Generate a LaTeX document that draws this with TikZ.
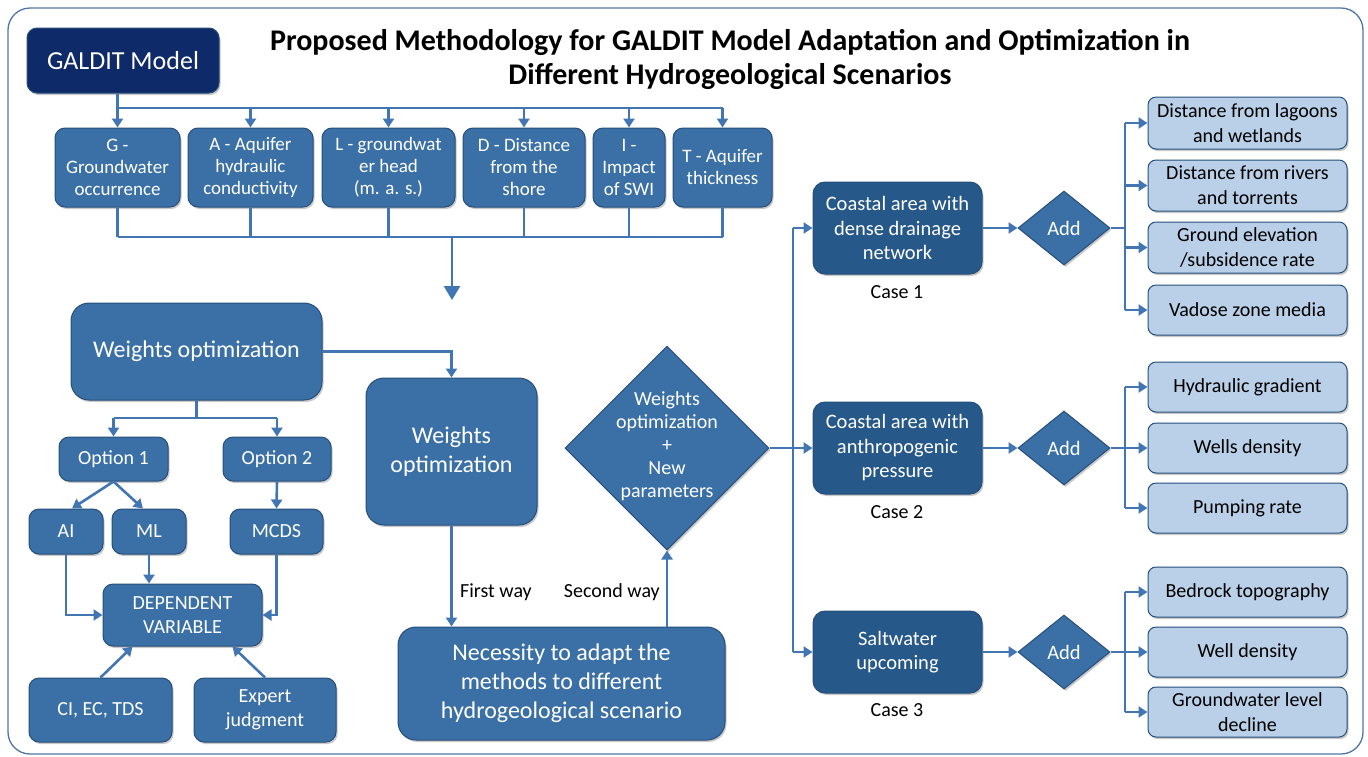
\documentclass[tikz,border=0pt]{standalone}
\usepackage{fontspec}
\setmainfont{Carlito}
\usetikzlibrary{arrows.meta,shapes.geometric,shadows}
\definecolor{navy}{RGB}{14,42,104}
\definecolor{midblue}{RGB}{59,112,166}
\definecolor{casebl}{RGB}{38,88,138}
\definecolor{lightbl}{RGB}{185,208,232}
\definecolor{boxline}{RGB}{38,78,122}
\definecolor{conn}{RGB}{65,118,178}
\definecolor{frame}{RGB}{80,118,165}
\newcommand\fs[2]{\fontsize{#1}{#2}\selectfont}
\newcommand\BX[7]{\node[#6, minimum width={(#4-#2)*1pt}, minimum height={(#5-#3)*1pt}] (#1) at ({(#2+#4)/2},{(#3+#5)/2}) {#7};}
\tikzset{
  shd/.style={drop shadow={shadow xshift=1.5pt, shadow yshift=-2pt, opacity=0.3, fill=black!70}},
  base/.style={shd, draw=boxline, line width=1pt, text=white, align=center, inner sep=0pt},
  galdit/.style={base, fill=navy, rounded corners=10pt, font=\fs{26}{30}},
  mid/.style={base, fill=midblue, rounded corners=10pt, font=\fs{19}{22}},
  small/.style={base, fill=midblue, rounded corners=10pt, font=\fs{20}{24.5}},
  big/.style={base, fill=midblue, rounded corners=18pt, font=\fs{24}{29}},
  casebox/.style={base, fill=casebl, rounded corners=12pt, font=\fs{20.5}{24.5}},
  light/.style={shd, draw=boxline, line width=1pt, fill=lightbl, text=black, align=center, inner sep=0pt, rounded corners=8pt, font=\fs{20}{25}},
  dmd/.style={base, fill=midblue, diamond, aspect=1},
  lbl/.style={text=black, font=\fs{20}{22}, inner sep=0pt},
  ln/.style={draw=conn, line width=2.6pt},
  arr/.style={ln, -{Triangle[length=9pt,width=11pt]}},
  bigarr/.style={ln, -{Triangle[length=14pt,width=16pt]}},
}
\begin{document}
\begin{tikzpicture}[x=1pt,y=-1pt]
\useasboundingbox (0,0) rectangle (1368,756);
\draw[draw=frame, line width=1.3pt, rounded corners=22pt] (8,8) rectangle (1363,754);

% title
\node[font=\bfseries\fs{30}{34}, align=center, text=black, inner sep=0pt] (title) at (730,59)
  {Proposed Methodology for GALDIT Model Adaptation and Optimization in\\Different Hydrogeological Scenarios};

% top
\BX{galdit}{27}{28}{219}{93}{galdit}{GALDIT Model}
\BX{G}{55}{128}{180}{207}{mid}{G -\\Groundwater\\occurrence}
\BX{A}{188}{128}{313}{207}{mid}{A - Aquifer\\hydraulic\\conductivity}
\BX{L}{322}{128}{455}{207}{mid}{L - groundwat\\er head\\(m. a. s.)}
\BX{D}{463}{128}{585}{207}{mid}{D - Distance\\from the\\shore}
\BX{I}{593}{128}{665}{207}{mid}{I -\\Impact\\of SWI}
\BX{T}{673}{128}{772}{207}{mid}{T - Aquifer\\thickness}

\coordinate (topbus) at (0,108);
\coordinate (botbus) at (0,237);
\coordinate (bigend) at (452,300);
\draw[arr] (G.north |- galdit.south) -- (G.north);
\draw[ln] (G.north |- topbus) -- (T.north |- topbus);
\foreach \n in {A,L,D,I,T} \draw[arr] (\n.north |- topbus) -- (\n.north);
\draw[ln] (G.south |- botbus) -- (T.south |- botbus);
\foreach \n in {G,A,L,D,I,T} \draw[ln] (\n.south) -- (\n.south |- botbus);
\draw[bigarr] (bigend |- botbus) -- (bigend);

% left block
\BX{w1}{71}{303}{322}{400}{big}{Weights optimization}
\BX{opt1}{59}{437}{168}{481}{small}{Option 1}
\BX{opt2}{223}{437}{331}{481}{small}{Option 2}
\BX{ai}{29}{509}{103}{554}{small}{AI}
\BX{ml}{112}{509}{186}{554}{small}{ML}
\BX{mcds}{230}{509}{323}{554}{small}{MCDS}
\BX{dep}{103}{584}{262}{646}{small}{DEPENDENT\\VARIABLE}
\BX{ci}{29}{678}{172}{742}{small}{CI, EC, TDS}
\BX{exp}{194}{678}{336}{742}{small}{Expert\\judgment}

\coordinate (optbus) at (0,418);
\draw[ln] (w1.south) -- (w1.south |- optbus);
\draw[ln] (opt1.north |- optbus) -- (opt2.north |- optbus);
\draw[arr] (opt1.north |- optbus) -- (opt1.north);
\draw[arr] (opt2.north |- optbus) -- (opt2.north);
\draw[arr] (opt1.south) -- ([xshift=6pt]ai.north);
\draw[arr] (opt1.south) -- ([xshift=-6pt]ml.north);
\draw[arr] (opt2.south) -- (mcds.north);
\draw[arr] (ml.south) -- (ml.south |- dep.north);
\draw[arr] (ai.south) |- (dep.west);
\draw[arr] (mcds.south) |- (dep.east);
\draw[arr] (ci.north) -- ([xshift=-50pt]dep.south);
\draw[arr] (exp.north) -- ([xshift=50pt]dep.south);

% middle
\BX{w2}{366}{378}{537}{525}{big}{Weights\\optimization}
\BX{nec}{398}{627}{725}{740}{big}{Necessity to adapt the\\methods to different\\hydrogeological scenario}
\node[dmd, minimum width=204pt, minimum height=204pt, inner sep=0pt] (dia) at (667,448)
  {\raisebox{-4pt}[0pt][0pt]{\makebox[0pt]{\fs{20}{23}\begin{tabular}{@{}c@{}}Weights\\optimization\\+\\New\\parameters\end{tabular}}}};

\draw[arr] (w1.east) -| (w2.north);
\draw[arr] (w2.south) -- (w2.south |- nec.north);
\draw[arr] (dia.south |- nec.north) -- (dia.south);
\node[lbl, anchor=west] (first) at (460,592) {First way};
\node[lbl, anchor=east] (second) at (660,592) {Second way};

% cases
\BX{c1}{813}{182}{982}{274}{casebox}{Coastal area with\\dense drainage\\network}
\BX{c2}{813}{402}{982}{494}{casebox}{Coastal area with\\anthropogenic\\pressure}
\BX{c3}{813}{611}{982}{693}{casebox}{Saltwater\\upcoming}
\node[lbl] (case1) at (897,292) {Case 1};
\node[lbl] (case2) at (897,512) {Case 2};
\node[lbl] (case3) at (897,710) {Case 3};

\coordinate (vb) at (793,0);
\draw[ln] (dia.east) -- (vb |- dia.east);
\draw[ln] (vb |- c1.west) -- (vb |- c3.west);
\foreach \c in {c1,c2,c3} \draw[arr] (vb |- \c.west) -- (\c.west);

\foreach \k/\y in {1/228,2/448,3/652} {
  \node[dmd, minimum width=92pt, minimum height=74pt, font=\fs{20.5}{22}] (add\k) at (1064,\y) {Add};
}
\draw[arr] (c1.east) -- (add1.west);
\draw[arr] (c2.east) -- (add2.west);
\draw[arr] (c3.east) -- (add3.west);

% right boxes
\BX{r11}{1148}{97}{1347}{149}{light}{Distance from lagoons\\and wetlands}
\BX{r12}{1148}{160}{1347}{211}{light}{Distance from rivers\\and torrents}
\BX{r13}{1148}{222}{1347}{273}{light}{Ground elevation\\/subsidence rate}
\BX{r14}{1148}{285}{1347}{335}{light}{Vadose zone media}
\BX{r21}{1148}{362}{1347}{412}{light}{Hydraulic gradient}
\BX{r22}{1148}{423}{1347}{473}{light}{Wells density}
\BX{r23}{1148}{483}{1347}{533}{light}{Pumping rate}
\BX{r31}{1148}{567}{1347}{617}{light}{Bedrock topography}
\BX{r32}{1148}{627}{1347}{677}{light}{Well density}
\BX{r33}{1148}{687}{1347}{737}{light}{Groundwater level\\decline}

\coordinate (rb) at (1125,0);
\draw[ln] (add1.east) -- (rb |- add1.east);
\draw[ln] (rb |- r11.west) -- (rb |- r14.west);
\foreach \r in {r11,r12,r13,r14} \draw[arr] (rb |- \r.west) -- (\r.west);
\draw[ln] (add2.east) -- (rb |- add2.east);
\draw[ln] (rb |- r21.west) -- (rb |- r23.west);
\foreach \r in {r21,r22,r23} \draw[arr] (rb |- \r.west) -- (\r.west);
\draw[ln] (add3.east) -- (rb |- add3.east);
\draw[ln] (rb |- r31.west) -- (rb |- r33.west);
\foreach \r in {r31,r32,r33} \draw[arr] (rb |- \r.west) -- (\r.west);
\end{tikzpicture}
\end{document}
